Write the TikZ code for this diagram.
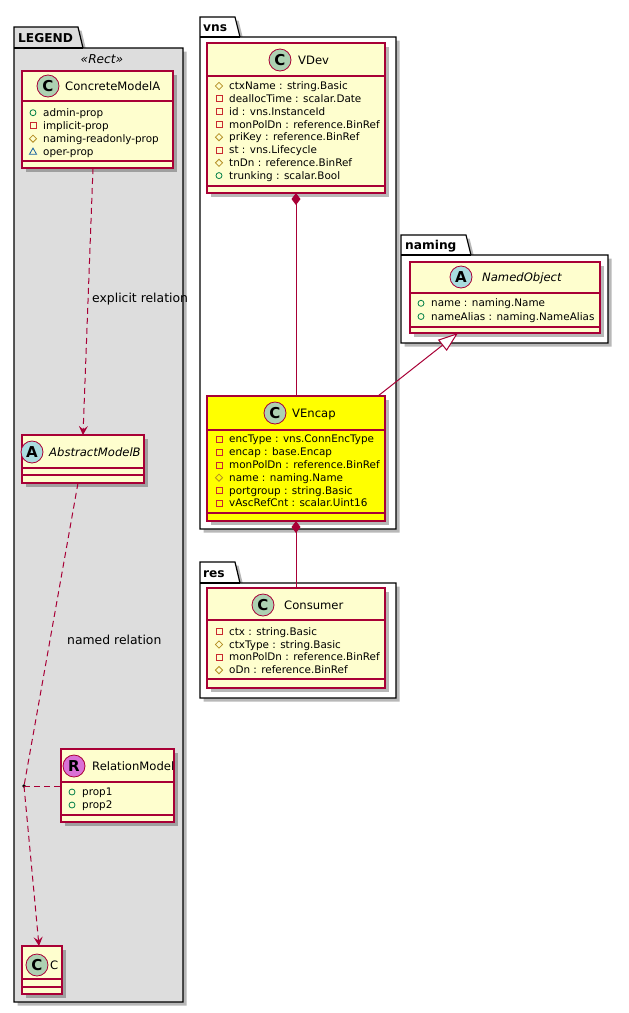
\documentclass[tikz,border=0pt]{standalone}
\usepackage{fontspec}
\setmainfont{DejaVu Sans}
\usetikzlibrary{arrows.meta,shadows,calc}
\definecolor{bd}{HTML}{A80036}
\definecolor{cfill}{HTML}{FEFECE}
\definecolor{lgfill}{HTML}{DDDDDD}
\definecolor{icC}{HTML}{ADD1B2}
\definecolor{icA}{HTML}{A9DCDF}
\definecolor{icR}{HTML}{DA70D6}
\definecolor{vpub}{HTML}{038048}
\definecolor{vpriv}{HTML}{C82930}
\definecolor{vprot}{HTML}{B38D22}
\definecolor{vpkg}{HTML}{1963A0}
\definecolor{hiyel}{HTML}{FFFF00}
\tikzset{
  shd/.style={drop shadow={shadow xshift=3.5pt,shadow yshift=-3.5pt,opacity=0.28,fill=black}},
  classbox/.style={draw=bd,line width=1.2pt,fill=cfill,rectangle,inner sep=0pt,outer sep=0pt,anchor=north west,shd},
  sepline/.style={draw=bd,line width=1.2pt},
  icirc/.style={circle,draw=bd,line width=0.8pt,minimum size=22pt,inner sep=0pt,font=\fontsize{15}{15}\selectfont\bfseries},
  cname/.style={anchor=base west,inner sep=0pt,font=\fontsize{11.6}{13}\selectfont},
  aname/.style={anchor=base west,inner sep=0pt,font=\fontsize{11.6}{13}\selectfont\itshape},
  attr/.style={anchor=base west,inner sep=0pt,font=\fontsize{10.4}{12}\selectfont},
  pkgline/.style={draw=black,line width=1.2pt},
  pkgtitle/.style={anchor=base west,inner sep=0pt,font=\fontsize{12.2}{14}\selectfont\bfseries},
  rel/.style={draw=bd,line width=1pt},
  dashrel/.style={rel,dash pattern=on 6pt off 4pt},
  lbl/.style={anchor=base west,inner sep=0pt,font=\fontsize{12.4}{14}\selectfont},
  opentip/.style={-{Stealth[length=9pt,width=9pt,inset=3.5pt]}},
}
\newcommand{\umlicpub}[1]{\draw[vpub,line width=0.8pt] #1 circle (3pt);}
\newcommand{\umlicpriv}[1]{\draw[vpriv,line width=0.8pt] #1 ++(-3,-3) rectangle ++(6,6);}
\newcommand{\umlicprot}[1]{\draw[vprot,line width=0.8pt] #1 ++(-3.6,0) -- ++(3.6,-3.6) -- ++(3.6,3.6) -- ++(-3.6,3.6) -- cycle;}
\newcommand{\umlicpkg}[1]{\draw[vpkg,line width=0.8pt] #1 ++(0,-3.6) -- ++(3.6,6.2) -- ++(-7.2,0) -- cycle;}
\newcommand{\umlattrs}[5]{%
  \foreach \ic/\tx [count=\k from 0] in {#5}{%
    \csname umlic\ic\endcsname{(#2,{#3+#4*\k})}
    \node[attr] (#1\k) at ({#2+10},{#3+#4*\k+3.6}) {\tx};
  }}
\begin{document}
\begin{tikzpicture}[x=1pt,y=-1pt]
\useasboundingbox (0,0) rectangle (629,1013);

% ---------- packages ----------
\path[pkgline,fill=lgfill,shd] (14,48) -- (14,27) -- (78,27) -- (83,48) -- (183,48) -- (183,1002) -- (14,1002) -- cycle;
\draw[pkgline] (14,48) -- (83,48);
\node[pkgtitle] (pLegend) at (18,42.5) {LEGEND};
\node[anchor=base,inner sep=0pt,font=\fontsize{12.2}{14}\selectfont\itshape] (stRect) at (102,63) {«Rect»};

\path[pkgline,fill=white,shd] (200,37) -- (200,17) -- (235,17) -- (240,37) -- (396,37) -- (396,529) -- (200,529) -- cycle;
\draw[pkgline] (200,37) -- (240,37);
\node[pkgtitle] (pVns) at (203,31.5) {vns};

\path[pkgline,fill=white,shd] (200,583) -- (200,562) -- (235,562) -- (240,583) -- (396,583) -- (396,698) -- (200,698) -- cycle;
\draw[pkgline] (200,583) -- (240,583);
\node[pkgtitle] (pRes) at (203,577.5) {res};

\path[pkgline,fill=white,shd] (401,255) -- (401,235) -- (466,235) -- (471,255) -- (608,255) -- (608,343) -- (401,343) -- cycle;
\draw[pkgline] (401,255) -- (471,255);
\node[pkgtitle] (pNaming) at (405,249.5) {naming};

% ---------- ConcreteModelA ----------
\node[classbox,minimum width=151pt,minimum height=97pt] (cma) at (22,71) {};
\draw[sepline] (22,101) -- (173,101);
\draw[sepline] (22,161) -- (173,161);
\node[icirc,fill=icC] (cmaI) at (48,86) {C};
\node[cname] (cmaN) at (65,90.2) {ConcreteModelA};
\umlattrs{cmaA}{33}{112.7}{13}{pub/admin-prop,priv/implicit-prop,prot/naming-readonly-prop,pkg/oper-prop}

% ---------- AbstractModelB ----------
\node[classbox,minimum width=122pt,minimum height=48pt] (amb) at (22,435) {};
\draw[sepline] (22,468) -- (144,468);
\draw[sepline] (22,475) -- (144,475);
\node[icirc,fill=icA] (ambI) at (32,452) {A};
\node[aname] (ambN) at (49,456.2) {AbstractModelB};

% ---------- RelationModel ----------
\node[classbox,minimum width=113pt,minimum height=73pt] (rm) at (61,749) {};
\draw[sepline] (61,782) -- (174,782);
\draw[sepline] (61,815) -- (174,815);
\node[icirc,fill=icR] (rmI) at (74,766) {R};
\node[cname] (rmN) at (92,770.2) {RelationModel};
\umlattrs{rmA}{72}{792}{13}{pub/prop1,pub/prop2}

% ---------- C ----------
\node[classbox,minimum width=40pt,minimum height=48pt] (cc) at (22,946) {};
\draw[sepline] (22,979) -- (62,979);
\draw[sepline] (22,987) -- (62,987);
\node[icirc,fill=icC] (ccI) at (37,965) {C};
\node[cname] (ccN) at (50,969.2) {C};

% ---------- VDev ----------
\node[classbox,minimum width=178pt,minimum height=150pt] (vdev) at (207,43) {};
\draw[sepline] (207,76) -- (385,76);
\draw[sepline] (207,186) -- (385,186);
\node[icirc,fill=icC] (vdevI) at (280,60) {C};
\node[cname] (vdevN) at (298,64.2) {VDev};
\umlattrs{vdevA}{219}{86}{12.8}{prot/ctxName : string.Basic,priv/deallocTime : scalar.Date,priv/id : vns.InstanceId,priv/monPolDn : reference.BinRef,prot/priKey : reference.BinRef,priv/st : vns.Lifecycle,prot/tnDn : reference.BinRef,pub/trunking : scalar.Bool}

% ---------- VEncap ----------
\node[classbox,fill=hiyel,minimum width=178pt,minimum height=125pt] (venc) at (207,396) {};
\draw[sepline] (207,430) -- (385,430);
\draw[sepline] (207,513) -- (385,513);
\node[icirc,fill=icC] (vencI) at (275,413) {C};
\node[cname] (vencN) at (292,417.2) {VEncap};
\umlattrs{vencA}{219}{439.3}{12.8}{priv/encType : vns.ConnEncType,priv/encap : base.Encap,priv/monPolDn : reference.BinRef,prot/name : naming.Name,priv/portgroup : string.Basic,priv/vAscRefCnt : scalar.Uint16}

% ---------- Consumer ----------
\node[classbox,minimum width=178pt,minimum height=100pt] (cons) at (207,588) {};
\draw[sepline] (207,620) -- (385,620);
\draw[sepline] (207,679) -- (385,679);
\node[icirc,fill=icC] (consI) at (263,605) {C};
\node[cname] (consN) at (284,609.2) {Consumer};
\umlattrs{consA}{219}{631.7}{12.8}{priv/ctx : string.Basic,prot/ctxType : string.Basic,priv/monPolDn : reference.BinRef,prot/oDn : reference.BinRef}

% ---------- NamedObject ----------
\node[classbox,minimum width=190pt,minimum height=71pt] (nobj) at (410,262) {};
\draw[sepline] (410,293) -- (600,293);
\draw[sepline] (410,327) -- (600,327);
\node[icirc,fill=icA] (nobjI) at (461,277) {A};
\node[aname] (nobjN) at (482,281.2) {NamedObject};
\umlattrs{nobjA}{421}{303.3}{13.2}{pub/name : naming.Name,pub/nameAlias : naming.NameAlias}

% ---------- connectors ----------
\draw[dashrel,opentip] ($(cma.south)+(-4.5,0)$) -- (amb.north);
\node[lbl] (lblExplicit) at (92,302.5) {explicit relation};

\node[circle,fill=black,inner sep=0pt,minimum size=3.6pt] (dot) at (24,786) {};
\draw[dashrel] ($(amb.south)+(-5,0)$) -- (dot.center);
\draw[dashrel,opentip] (dot.center) -- ($(cc.north)+(-3,0)$);
\draw[dashrel] (dot.center) -- (dot.center -| rm.west);
\node[lbl] (lblNamed) at (67,644) {named relation};

\draw[rel,{Diamond[length=12pt,width=9pt]}-] (vdev.south) -- (venc.north);
\draw[rel,{Diamond[length=12pt,width=9pt]}-] (venc.south) -- (cons.north);
\draw[rel,-{Triangle[open,length=20pt,width=14pt,fill=white]}] ($(venc.north east)+(-7,0)$) -- ($(nobj.south)+(-47,0)$);
\end{tikzpicture}
\end{document}
